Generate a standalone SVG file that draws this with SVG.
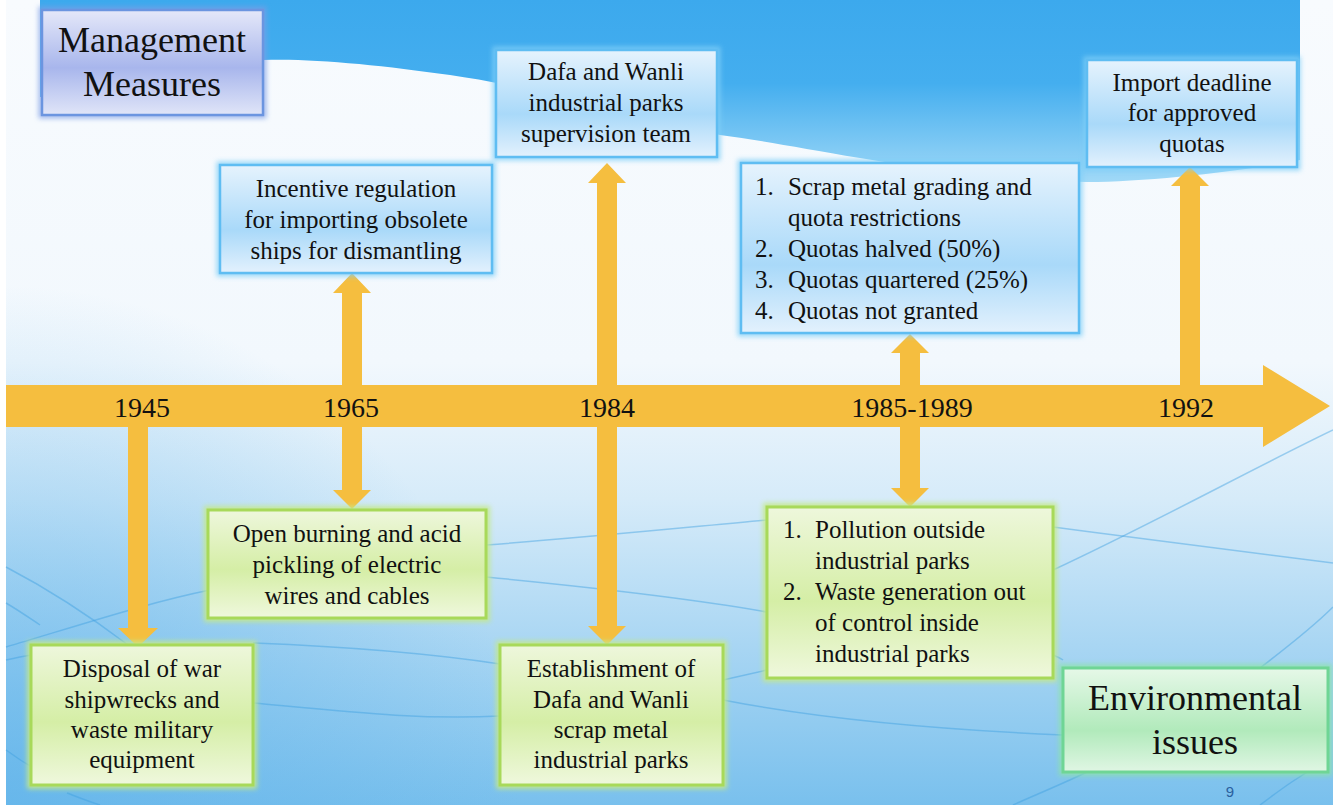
<svg xmlns="http://www.w3.org/2000/svg" width="1333" height="805" viewBox="0 0 1333 805">
<defs>
<linearGradient id="bg" x1="0" y1="0" x2="0" y2="805" gradientUnits="userSpaceOnUse">
<stop offset="0" stop-color="#f8fbfe"/>
<stop offset="0.45" stop-color="#f2f8fd"/>
<stop offset="0.62" stop-color="#d6ebf9"/>
<stop offset="0.8" stop-color="#a9d6f3"/>
<stop offset="1" stop-color="#79c0ed"/>
</linearGradient>
<radialGradient id="bgSide" cx="0" cy="805" r="520" gradientUnits="userSpaceOnUse">
<stop offset="0" stop-color="#5fb3ea" stop-opacity="0.7"/>
<stop offset="1" stop-color="#5fb3ea" stop-opacity="0"/>
</radialGradient>
<linearGradient id="topBlue" x1="0" y1="0" x2="0" y2="185" gradientUnits="userSpaceOnUse">
<stop offset="0" stop-color="#3ca9ed"/>
<stop offset="0.45" stop-color="#44aeef"/>
<stop offset="1" stop-color="#a3daf7"/>
</linearGradient>
<linearGradient id="gBlue" x1="0" y1="0" x2="0" y2="1">
<stop offset="0" stop-color="#e6f3fd"/>
<stop offset="0.6" stop-color="#a9d9f9"/>
<stop offset="1" stop-color="#e3f1fd"/>
</linearGradient>
<linearGradient id="gGreen" x1="0" y1="0" x2="0" y2="1">
<stop offset="0" stop-color="#eef7dc"/>
<stop offset="0.55" stop-color="#d5eea6"/>
<stop offset="1" stop-color="#eff8dd"/>
</linearGradient>
<linearGradient id="gLav" x1="0" y1="0" x2="0" y2="1">
<stop offset="0" stop-color="#e5e8f9"/>
<stop offset="0.55" stop-color="#a8b6ec"/>
<stop offset="1" stop-color="#e0e5f8"/>
</linearGradient>
<linearGradient id="gMint" x1="0" y1="0" x2="0" y2="1">
<stop offset="0" stop-color="#e6f8e8"/>
<stop offset="0.6" stop-color="#b1eabb"/>
<stop offset="1" stop-color="#e0f6e4"/>
</linearGradient>
<filter id="glow" x="-10%" y="-10%" width="120%" height="120%">
<feGaussianBlur stdDeviation="2.5"/>
</filter>
</defs>
<style>
.t{font-family:'Liberation Serif','Times New Roman',serif;fill:#111;}
.box{font-size:25px;}
.big{font-size:36px;}
.yr{font-size:28px;}
.c{text-anchor:middle;}
.arrow{fill:#f5be3f;}
.bl{fill:url(#gBlue);stroke:#5fbdf2;stroke-width:2.5;}
.blg{fill:none;stroke:#7fcff7;stroke-width:7;opacity:0.8;filter:url(#glow);}
.gr{fill:url(#gGreen);stroke:#a8d95a;stroke-width:3;}
.grg{fill:none;stroke:#c4e98a;stroke-width:8;opacity:0.9;filter:url(#glow);}
.wl{fill:none;stroke:#3f9fdf;stroke-width:1.5;opacity:0.45;}
</style>
<rect x="0" y="0" width="1333" height="805" fill="#ffffff"/>
<rect x="6" y="0" width="1327" height="805" fill="url(#bg)"/>
<rect x="6" y="280" width="1327" height="525" fill="url(#bgSide)"/>
<path d="M40,0 H1300 V160 C1250,170 1150,182 1087,182 C1000,180 920,168 860,158 C800,148 760,140 720,135 C620,110 520,85 450,75 C380,65 310,58 263,60 L263,97 L40,97 Z" fill="url(#topBlue)"/>
<g id="waves">
<path class="wl" d="M6,647 C80,625 150,602 210,590"/>
<path class="wl" d="M486,545 C580,538 680,528 767,520"/>
<path class="wl" d="M486,577 C600,588 700,600 767,612"/>
<path class="wl" d="M253,643 C330,646 420,652 500,664"/>
<path class="wl" d="M253,703 C350,712 420,720 500,716"/>
<path class="wl" d="M723,680 L767,670"/>
<path class="wl" d="M723,700 C800,715 900,728 1063,735"/>
<path class="wl" d="M1053,570 C1150,525 1250,470 1333,430"/>
<path class="wl" d="M1053,527 C1150,540 1250,552 1333,563"/>
<path class="wl" d="M1260,668 C1290,645 1315,625 1333,607"/>
<path class="wl" d="M1087,772 C1060,785 1035,795 1013,805"/>
<path class="wl" d="M6,567 C50,590 95,620 128,645"/>
<path class="wl" d="M6,603 C18,610 28,617 40,625"/>
<path class="wl" d="M6,660 C15,658 25,656 31,655"/>
<path class="wl" d="M6,750 C15,756 22,762 31,766"/>
<path class="wl" d="M67,793 C80,798 90,802 100,805"/>
<path class="wl" d="M1053,655 C1058,657 1060,658 1063,660"/>
<path class="wl" d="M1328,760 C1300,775 1280,790 1260,805"/>
</g>
<g id="connectors">
<polygon class="arrow" points="6,385 1263,385 1263,365 1330,406 1263,447 1263,427 6,427"/>
<polygon class="arrow" points="128,420 148,420 148,628 158,628 138,647 118,628 128,628"/>
<polygon class="arrow" points="342,390 342,293 333,293 352,273 371,293 362,293 362,390"/>
<polygon class="arrow" points="342,420 362,420 362,490 371,490 352,509 333,490 342,490"/>
<polygon class="arrow" points="597,390 597,183 588,183 607,163 626,183 617,183 617,390"/>
<polygon class="arrow" points="597,420 617,420 617,626 626,626 607,645 588,626 597,626"/>
<polygon class="arrow" points="900,390 900,353 891,353 910,334 929,353 920,353 920,390"/>
<polygon class="arrow" points="900,420 920,420 920,488 929,488 910,507 891,488 900,488"/>
<polygon class="arrow" points="1180,390 1180,186 1171,186 1190,167 1209,186 1200,186 1200,390"/>
</g>
<g id="years">
<text class="t yr c" x="142" y="417">1945</text>
<text class="t yr c" x="351" y="417">1965</text>
<text class="t yr c" x="607" y="417">1984</text>
<text class="t yr c" x="912" y="417">1985-1989</text>
<text class="t yr c" x="1186" y="417">1992</text>
</g>
<g id="management-measures">
<rect x="42" y="10" width="221" height="105" fill="none" stroke="#7d9ee6" stroke-width="7" opacity="0.7" filter="url(#glow)"/>
<rect x="42" y="10" width="221" height="105" fill="url(#gLav)" stroke="#6b95e0" stroke-width="2.5"/>
<text class="t big c" x="152" y="52">Management</text>
<text class="t big c" x="152" y="96">Measures</text>
</g>
<g id="incentive-regulation">
<rect class="blg" x="220" y="165" width="272" height="108"/>
<rect class="bl" x="220" y="165" width="272" height="108"/>
<text class="t box c" x="356" y="197">Incentive regulation</text>
<text class="t box c" x="356" y="228">for importing obsolete</text>
<text class="t box c" x="356" y="259">ships for dismantling</text>
</g>
<g id="supervision-team">
<rect class="blg" x="496" y="50" width="221" height="107"/>
<rect class="bl" x="496" y="50" width="221" height="107"/>
<text class="t box c" x="606" y="80">Dafa and Wanli</text>
<text class="t box c" x="606" y="111">industrial parks</text>
<text class="t box c" x="606" y="142">supervision team</text>
</g>
<g id="quota-restrictions">
<rect class="blg" x="741" y="163" width="338" height="170"/>
<rect class="bl" x="741" y="163" width="338" height="170"/>
<text class="t box" x="755" y="195">1.</text>
<text class="t box" x="788" y="195">Scrap metal grading and</text>
<text class="t box" x="788" y="226">quota restrictions</text>
<text class="t box" x="755" y="257">2.</text>
<text class="t box" x="788" y="257">Quotas halved (50%)</text>
<text class="t box" x="755" y="288">3.</text>
<text class="t box" x="788" y="288">Quotas quartered (25%)</text>
<text class="t box" x="755" y="319">4.</text>
<text class="t box" x="788" y="319">Quotas not granted</text>
</g>
<g id="import-deadline">
<rect class="blg" x="1087" y="60" width="210" height="107"/>
<rect class="bl" x="1087" y="60" width="210" height="107"/>
<text class="t box c" x="1192" y="91">Import deadline</text>
<text class="t box c" x="1192" y="121">for approved</text>
<text class="t box c" x="1192" y="152">quotas</text>
</g>
<g id="open-burning">
<rect class="grg" x="208" y="510" width="278" height="108"/>
<rect class="gr" x="208" y="510" width="278" height="108"/>
<text class="t box c" x="347" y="542">Open burning and acid</text>
<text class="t box c" x="347" y="573">pickling of electric</text>
<text class="t box c" x="347" y="604">wires and cables</text>
</g>
<g id="war-shipwrecks">
<rect class="grg" x="31" y="645" width="222" height="140"/>
<rect class="gr" x="31" y="645" width="222" height="140"/>
<text class="t box c" x="142" y="677">Disposal of war</text>
<text class="t box c" x="142" y="708">shipwrecks and</text>
<text class="t box c" x="142" y="738">waste military</text>
<text class="t box c" x="142" y="768">equipment</text>
</g>
<g id="industrial-parks-establishment">
<rect class="grg" x="500" y="645" width="223" height="140"/>
<rect class="gr" x="500" y="645" width="223" height="140"/>
<text class="t box c" x="611" y="677">Establishment of</text>
<text class="t box c" x="611" y="708">Dafa and Wanli</text>
<text class="t box c" x="611" y="738">scrap metal</text>
<text class="t box c" x="611" y="768">industrial parks</text>
</g>
<g id="pollution">
<rect class="grg" x="767" y="507" width="286" height="171"/>
<rect class="gr" x="767" y="507" width="286" height="171"/>
<text class="t box" x="783" y="538">1.</text>
<text class="t box" x="815" y="538">Pollution outside</text>
<text class="t box" x="815" y="569">industrial parks</text>
<text class="t box" x="783" y="600">2.</text>
<text class="t box" x="815" y="600">Waste generation out</text>
<text class="t box" x="815" y="631">of control inside</text>
<text class="t box" x="815" y="662">industrial parks</text>
</g>
<g id="environmental-issues">
<rect x="1063" y="668" width="265" height="104" fill="none" stroke="#8de3a8" stroke-width="8" opacity="0.8" filter="url(#glow)"/>
<rect x="1063" y="668" width="265" height="104" fill="url(#gMint)" stroke="#6fd595" stroke-width="3"/>
<text class="t big c" x="1195" y="710">Environmental</text>
<text class="t big c" x="1195" y="754">issues</text>
</g>
<text x="1230" y="797" style="font-family:'Liberation Sans',Arial,sans-serif;font-size:15px;fill:#2a5f9e;text-anchor:middle">9</text>
</svg>
